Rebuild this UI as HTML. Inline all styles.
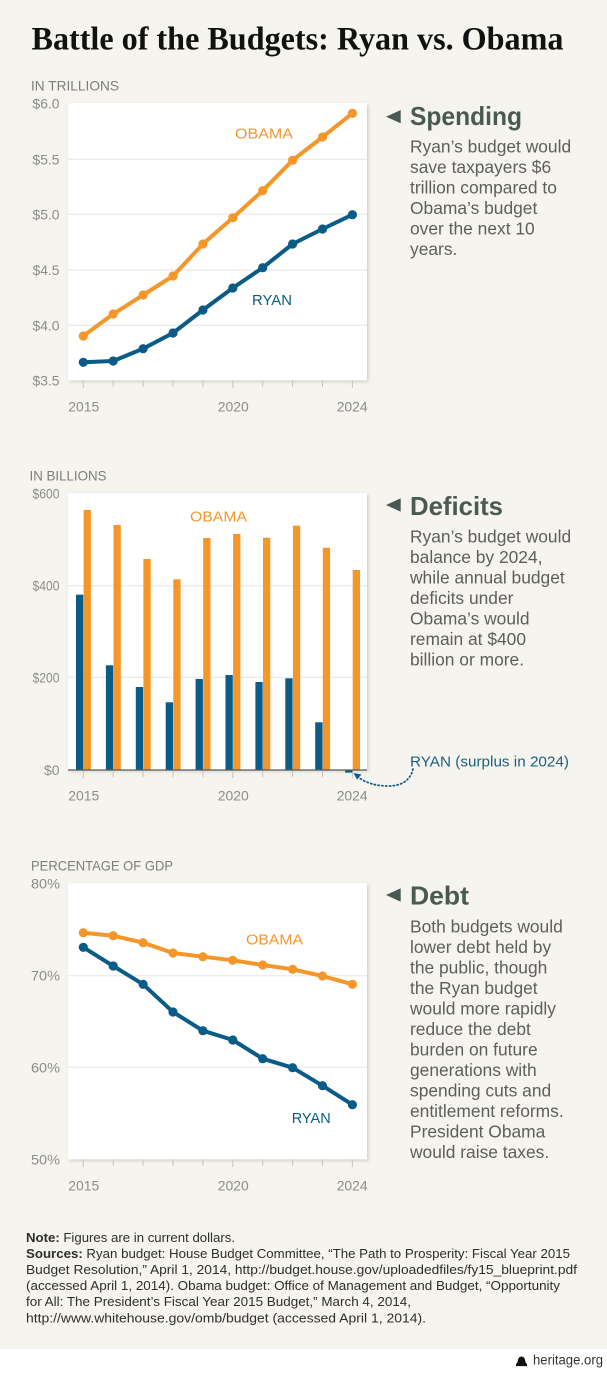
<!DOCTYPE html>
<html>
<head>
<meta charset="utf-8">
<style>
  html,body{margin:0;padding:0;background:#f6f4ee;}
  svg{display:block;}
  .ax{font-family:"Liberation Sans",sans-serif;font-size:14px;fill:#8c8c8c;}
  .unit{font-family:"Liberation Sans",sans-serif;font-size:14px;fill:#7d7d7d;}
  .lblO{font-family:"Liberation Sans",sans-serif;font-size:15px;fill:#f5962b;}
  .lblR{font-family:"Liberation Sans",sans-serif;font-size:15px;fill:#0a5b86;}
  .head{font-family:"Liberation Sans",sans-serif;font-size:26px;font-weight:bold;fill:#4b5955;}
  .body{font-family:"Liberation Sans",sans-serif;font-size:17.4px;fill:#5e5e5e;}
  .foot{font-family:"Liberation Sans",sans-serif;font-size:13px;fill:#2e2e2e;}
</style>
</head>
<body>
<svg width="607" height="1375" viewBox="0 0 607 1375" xmlns="http://www.w3.org/2000/svg">
  <defs>
    <filter id="sh" x="-5%" y="-5%" width="115%" height="115%">
      <feDropShadow dx="1.5" dy="1.5" stdDeviation="1.6" flood-color="#000" flood-opacity="0.16"/>
    </filter>
  </defs>
  <rect x="0" y="0" width="607" height="1375" fill="#f6f4ee"/>
  <rect x="0" y="1349" width="607" height="26" fill="#ffffff"/>

  <!-- Title -->
  <text x="31.5" y="49.3" textLength="532" lengthAdjust="spacingAndGlyphs" style="font-family:'Liberation Serif',serif;font-size:33px;font-weight:bold;fill:#111;">Battle of the Budgets: Ryan vs. Obama</text>

  <!-- ============ CHART 1: Spending ============ -->
  <text class="unit" x="31" y="90.5" textLength="88" lengthAdjust="spacingAndGlyphs">IN TRILLIONS</text>
  <rect x="68" y="103.3" width="299" height="277" fill="#fff" filter="url(#sh)"/>
  <g stroke="#e6e6e6" stroke-width="1">
    <line x1="68" y1="159.3" x2="367" y2="159.3"/>
    <line x1="68" y1="214.3" x2="367" y2="214.3"/>
    <line x1="68" y1="270" x2="367" y2="270"/>
    <line x1="68" y1="325.3" x2="367" y2="325.3"/>
  </g>
  <g stroke="#c4c4c4" stroke-width="1">
    <line x1="83.3" y1="380.3" x2="83.3" y2="388"/>
    <line x1="113.2" y1="380.3" x2="113.2" y2="387"/>
    <line x1="143.1" y1="380.3" x2="143.1" y2="387"/>
    <line x1="173" y1="380.3" x2="173" y2="387"/>
    <line x1="202.9" y1="380.3" x2="202.9" y2="387"/>
    <line x1="232.8" y1="380.3" x2="232.8" y2="388"/>
    <line x1="262.7" y1="380.3" x2="262.7" y2="387"/>
    <line x1="292.6" y1="380.3" x2="292.6" y2="387"/>
    <line x1="322.5" y1="380.3" x2="322.5" y2="387"/>
    <line x1="352.4" y1="380.3" x2="352.4" y2="388"/>
  </g>
  <g class="ax" text-anchor="end">
    <text x="59.5" y="108.5" textLength="27" lengthAdjust="spacingAndGlyphs">$6.0</text>
    <text x="59.5" y="164.3" textLength="27" lengthAdjust="spacingAndGlyphs">$5.5</text>
    <text x="59.5" y="219.3" textLength="27" lengthAdjust="spacingAndGlyphs">$5.0</text>
    <text x="59.5" y="275" textLength="27" lengthAdjust="spacingAndGlyphs">$4.5</text>
    <text x="59.5" y="330.3" textLength="27" lengthAdjust="spacingAndGlyphs">$4.0</text>
    <text x="59.5" y="385.5" textLength="27" lengthAdjust="spacingAndGlyphs">$3.5</text>
  </g>
  <g class="ax" text-anchor="middle">
    <text x="83.8" y="411.7" textLength="31" lengthAdjust="spacingAndGlyphs">2015</text>
    <text x="233.3" y="411.7" textLength="31" lengthAdjust="spacingAndGlyphs">2020</text>
    <text x="352.2" y="411.7" textLength="31" lengthAdjust="spacingAndGlyphs">2024</text>
  </g>
  <polyline fill="none" stroke="#f5962b" stroke-width="4" stroke-linejoin="round" points="83.3,336 113.2,314 143.1,295 173,276 202.9,244 232.8,217.7 262.7,190.7 292.6,160.3 322.5,137 352.4,113.3"/>
  <g fill="#f5962b">
    <circle cx="83.3" cy="336" r="4.6"/><circle cx="113.2" cy="314" r="4.6"/><circle cx="143.1" cy="295" r="4.6"/><circle cx="173" cy="276" r="4.6"/><circle cx="202.9" cy="244" r="4.6"/><circle cx="232.8" cy="217.7" r="4.6"/><circle cx="262.7" cy="190.7" r="4.6"/><circle cx="292.6" cy="160.3" r="4.6"/><circle cx="322.5" cy="137" r="4.6"/><circle cx="352.4" cy="113.3" r="4.6"/>
  </g>
  <polyline fill="none" stroke="#0a5b86" stroke-width="4" stroke-linejoin="round" points="83.3,362.3 113.2,361 143.1,348.7 173,333 202.9,310 232.8,288 262.7,267.7 292.6,244 322.5,229 352.4,214.7"/>
  <g fill="#0a5b86">
    <circle cx="83.3" cy="362.3" r="4.6"/><circle cx="113.2" cy="361" r="4.6"/><circle cx="143.1" cy="348.7" r="4.6"/><circle cx="173" cy="333" r="4.6"/><circle cx="202.9" cy="310" r="4.6"/><circle cx="232.8" cy="288" r="4.6"/><circle cx="262.7" cy="267.7" r="4.6"/><circle cx="292.6" cy="244" r="4.6"/><circle cx="322.5" cy="229" r="4.6"/><circle cx="352.4" cy="214.7" r="4.6"/>
  </g>
  <text class="lblO" x="235" y="138.5" textLength="58" lengthAdjust="spacingAndGlyphs">OBAMA</text>
  <text class="lblR" x="252" y="304.8" textLength="40" lengthAdjust="spacingAndGlyphs">RYAN</text>

  <!-- Spending text -->
  <polygon points="386,116.7 400.7,110 400.7,123.3" fill="#4b5955"/>
  <text class="head" x="410" y="125" textLength="112" lengthAdjust="spacingAndGlyphs">Spending</text>
  <text class="body">
    <tspan x="410" y="152.7">Ryan’s budget would</tspan>
    <tspan x="410" y="173.2">save taxpayers $6</tspan>
    <tspan x="410" y="193.7">trillion compared to</tspan>
    <tspan x="410" y="214.2">Obama’s budget</tspan>
    <tspan x="410" y="234.7">over the next 10</tspan>
    <tspan x="410" y="255.2">years.</tspan>
  </text>

  <!-- ============ CHART 2: Deficits ============ -->
  <text class="unit" x="29.5" y="480.7" textLength="77" lengthAdjust="spacingAndGlyphs">IN BILLIONS</text>
  <rect x="68" y="493.3" width="299" height="276.7" fill="#fff" filter="url(#sh)"/>
  <g stroke="#e6e6e6" stroke-width="1">
    <line x1="68" y1="585.7" x2="367" y2="585.7"/>
    <line x1="68" y1="677.3" x2="367" y2="677.3"/>
  </g>
  <g stroke="#c4c4c4" stroke-width="1">
    <line x1="83.3" y1="770" x2="83.3" y2="778"/>
    <line x1="113.2" y1="770" x2="113.2" y2="777"/>
    <line x1="143.1" y1="770" x2="143.1" y2="777"/>
    <line x1="173" y1="770" x2="173" y2="777"/>
    <line x1="202.9" y1="770" x2="202.9" y2="777"/>
    <line x1="232.8" y1="770" x2="232.8" y2="778"/>
    <line x1="262.7" y1="770" x2="262.7" y2="777"/>
    <line x1="292.6" y1="770" x2="292.6" y2="777"/>
    <line x1="322.5" y1="770" x2="322.5" y2="777"/>
    <line x1="352.4" y1="770" x2="352.4" y2="778"/>
  </g>
  <g class="ax" text-anchor="end">
    <text x="59.5" y="498.5" textLength="27" lengthAdjust="spacingAndGlyphs">$600</text>
    <text x="59.5" y="590.7" textLength="27" lengthAdjust="spacingAndGlyphs">$400</text>
    <text x="59.5" y="682.3" textLength="27" lengthAdjust="spacingAndGlyphs">$200</text>
    <text x="59.5" y="775" textLength="15.5" lengthAdjust="spacingAndGlyphs">$0</text>
  </g>
  <g class="ax" text-anchor="middle">
    <text x="83.8" y="800.7" textLength="31" lengthAdjust="spacingAndGlyphs">2015</text>
    <text x="233.3" y="800.7" textLength="31" lengthAdjust="spacingAndGlyphs">2020</text>
    <text x="352.2" y="800.7" textLength="31" lengthAdjust="spacingAndGlyphs">2024</text>
  </g>
  <!-- orange bars -->
  <g fill="#f5962b">
    <rect x="83.6" y="510" width="7.3" height="260"/>
    <rect x="113.5" y="525" width="7.3" height="245"/>
    <rect x="143.4" y="559" width="7.3" height="211"/>
    <rect x="173.3" y="579.3" width="7.3" height="190.7"/>
    <rect x="203.2" y="538" width="7.3" height="232"/>
    <rect x="233.1" y="534" width="7.3" height="236"/>
    <rect x="263" y="537.7" width="7.3" height="232.3"/>
    <rect x="292.9" y="525.7" width="7.3" height="244.3"/>
    <rect x="322.8" y="547.7" width="7.3" height="222.3"/>
    <rect x="352.7" y="570" width="7.3" height="200"/>
  </g>
  <!-- blue bars -->
  <g fill="#0a5b86">
    <rect x="76" y="594.7" width="7.3" height="175.3"/>
    <rect x="105.9" y="665.3" width="7.3" height="104.7"/>
    <rect x="135.8" y="687" width="7.3" height="83"/>
    <rect x="165.7" y="702.3" width="7.3" height="67.7"/>
    <rect x="195.6" y="679" width="7.3" height="91"/>
    <rect x="225.5" y="675" width="7.3" height="95"/>
    <rect x="255.4" y="682" width="7.3" height="88"/>
    <rect x="285.3" y="678.3" width="7.3" height="91.7"/>
    <rect x="315.2" y="722.3" width="7.3" height="47.7"/>
    <rect x="345.1" y="770" width="7.3" height="2.6"/>
  </g>
  <line x1="68" y1="770" x2="367" y2="770" stroke="#5a5a5a" stroke-width="1.3"/>
  <text class="lblO" x="190" y="521.5" textLength="57" lengthAdjust="spacingAndGlyphs">OBAMA</text>

  <!-- dotted arrow -->
  <path d="M413,769 Q409,786 388,786 Q370,786 358,777" fill="none" stroke="#0a5b86" stroke-width="1.7" stroke-dasharray="1.2,2.6" stroke-linecap="round"/>
  <polygon points="353.5,773 361.5,774.5 357,779.5" fill="#0a5b86"/>
  <text class="lblR" x="410" y="766.5" textLength="159" lengthAdjust="spacingAndGlyphs" style="fill:#1d5f80;">RYAN (surplus in 2024)</text>

  <!-- Deficits text -->
  <polygon points="386,505 400.7,498.3 400.7,511.7" fill="#4b5955"/>
  <text class="head" x="410" y="515" textLength="93" lengthAdjust="spacingAndGlyphs">Deficits</text>
  <text class="body">
    <tspan x="410" y="542.7">Ryan’s budget would</tspan>
    <tspan x="410" y="563.2">balance by 2024,</tspan>
    <tspan x="410" y="583.7">while annual budget</tspan>
    <tspan x="410" y="604.2">deficits under</tspan>
    <tspan x="410" y="624.7">Obama’s would</tspan>
    <tspan x="410" y="645.2">remain at $400</tspan>
    <tspan x="410" y="665.7">billion or more.</tspan>
  </text>

  <!-- ============ CHART 3: Debt ============ -->
  <text class="unit" x="31" y="870.7" textLength="142" lengthAdjust="spacingAndGlyphs">PERCENTAGE OF GDP</text>
  <rect x="68" y="883.3" width="299" height="276" fill="#fff" filter="url(#sh)"/>
  <g stroke="#e6e6e6" stroke-width="1">
    <line x1="68" y1="975.7" x2="367" y2="975.7"/>
    <line x1="68" y1="1067.3" x2="367" y2="1067.3"/>
  </g>
  <g stroke="#c4c4c4" stroke-width="1">
    <line x1="83.3" y1="1159.3" x2="83.3" y2="1167"/>
    <line x1="113.2" y1="1159.3" x2="113.2" y2="1166"/>
    <line x1="143.1" y1="1159.3" x2="143.1" y2="1166"/>
    <line x1="173" y1="1159.3" x2="173" y2="1166"/>
    <line x1="202.9" y1="1159.3" x2="202.9" y2="1166"/>
    <line x1="232.8" y1="1159.3" x2="232.8" y2="1167"/>
    <line x1="262.7" y1="1159.3" x2="262.7" y2="1166"/>
    <line x1="292.6" y1="1159.3" x2="292.6" y2="1166"/>
    <line x1="322.5" y1="1159.3" x2="322.5" y2="1166"/>
    <line x1="352.4" y1="1159.3" x2="352.4" y2="1167"/>
  </g>
  <g class="ax" text-anchor="end">
    <text x="60" y="888.5" textLength="29" lengthAdjust="spacingAndGlyphs">80%</text>
    <text x="60" y="980.7" textLength="29" lengthAdjust="spacingAndGlyphs">70%</text>
    <text x="60" y="1072.3" textLength="29" lengthAdjust="spacingAndGlyphs">60%</text>
    <text x="60" y="1164.3" textLength="29" lengthAdjust="spacingAndGlyphs">50%</text>
  </g>
  <g class="ax" text-anchor="middle">
    <text x="83.8" y="1190.7" textLength="31" lengthAdjust="spacingAndGlyphs">2015</text>
    <text x="233.3" y="1190.7" textLength="31" lengthAdjust="spacingAndGlyphs">2020</text>
    <text x="352.2" y="1190.7" textLength="31" lengthAdjust="spacingAndGlyphs">2024</text>
  </g>
  <polyline fill="none" stroke="#f5962b" stroke-width="4" stroke-linejoin="round" points="83.3,932.7 113.2,935.7 143.1,942.7 173,953 202.9,956.7 232.8,960.3 262.7,965 292.6,969.3 322.5,976 352.4,984.3"/>
  <g fill="#f5962b">
    <circle cx="83.3" cy="932.7" r="4.6"/><circle cx="113.2" cy="935.7" r="4.6"/><circle cx="143.1" cy="942.7" r="4.6"/><circle cx="173" cy="953" r="4.6"/><circle cx="202.9" cy="956.7" r="4.6"/><circle cx="232.8" cy="960.3" r="4.6"/><circle cx="262.7" cy="965" r="4.6"/><circle cx="292.6" cy="969.3" r="4.6"/><circle cx="322.5" cy="976" r="4.6"/><circle cx="352.4" cy="984.3" r="4.6"/>
  </g>
  <polyline fill="none" stroke="#0a5b86" stroke-width="4" stroke-linejoin="round" points="83.3,947.3 113.2,966 143.1,984.3 173,1012 202.9,1030.7 232.8,1040 262.7,1058.7 292.6,1067.7 322.5,1085.7 352.4,1104.7"/>
  <g fill="#0a5b86">
    <circle cx="83.3" cy="947.3" r="4.6"/><circle cx="113.2" cy="966" r="4.6"/><circle cx="143.1" cy="984.3" r="4.6"/><circle cx="173" cy="1012" r="4.6"/><circle cx="202.9" cy="1030.7" r="4.6"/><circle cx="232.8" cy="1040" r="4.6"/><circle cx="262.7" cy="1058.7" r="4.6"/><circle cx="292.6" cy="1067.7" r="4.6"/><circle cx="322.5" cy="1085.7" r="4.6"/><circle cx="352.4" cy="1104.7" r="4.6"/>
  </g>
  <text class="lblO" x="246" y="944.5" textLength="57" lengthAdjust="spacingAndGlyphs">OBAMA</text>
  <text class="lblR" x="291.7" y="1122.8" textLength="39" lengthAdjust="spacingAndGlyphs">RYAN</text>

  <!-- Debt text -->
  <polygon points="386,895 400.7,888.3 400.7,901.7" fill="#4b5955"/>
  <text class="head" x="410" y="904.3" textLength="59" lengthAdjust="spacingAndGlyphs">Debt</text>
  <text class="body">
    <tspan x="410" y="932.7">Both budgets would</tspan>
    <tspan x="410" y="953.2">lower debt held by</tspan>
    <tspan x="410" y="973.7">the public, though</tspan>
    <tspan x="410" y="994.2">the Ryan budget</tspan>
    <tspan x="410" y="1014.7">would more rapidly</tspan>
    <tspan x="410" y="1035.2">reduce the debt</tspan>
    <tspan x="410" y="1055.7">burden on future</tspan>
    <tspan x="410" y="1076.2">generations with</tspan>
    <tspan x="410" y="1096.7">spending cuts and</tspan>
    <tspan x="410" y="1117.2">entitlement reforms.</tspan>
    <tspan x="410" y="1137.7">President Obama</tspan>
    <tspan x="410" y="1158.2">would raise taxes.</tspan>
  </text>

  <!-- Footer notes -->
  <text class="foot" x="26" y="1241.8" textLength="209" lengthAdjust="spacingAndGlyphs"><tspan font-weight="bold">Note:</tspan> Figures are in current dollars.</text>
  <text class="foot" x="26" y="1257.9" textLength="544" lengthAdjust="spacingAndGlyphs"><tspan font-weight="bold">Sources:</tspan> Ryan budget: House Budget Committee, “The Path to Prosperity: Fiscal Year 2015</text>
  <text class="foot" x="26" y="1274" textLength="551" lengthAdjust="spacingAndGlyphs">Budget Resolution,” April 1, 2014, http://budget.house.gov/uploadedfiles/fy15_blueprint.pdf</text>
  <text class="foot" x="26" y="1290.1" textLength="534" lengthAdjust="spacingAndGlyphs">(accessed April 1, 2014). Obama budget: Office of Management and Budget, “Opportunity</text>
  <text class="foot" x="26" y="1306.2" textLength="385" lengthAdjust="spacingAndGlyphs">for All: The President’s Fiscal Year 2015 Budget,” March 4, 2014,</text>
  <text class="foot" x="26" y="1322.3" textLength="400" lengthAdjust="spacingAndGlyphs">http://www.whitehouse.gov/omb/budget (accessed April 1, 2014).</text>

  <!-- heritage.org -->
  <path d="M516,1366 L516,1364 Q517.5,1363 518,1360 Q518.2,1357 521.5,1356.5 Q524.8,1357 525,1360 Q525.5,1363 527,1364 L527,1366 Z" fill="#111"/>
  <rect x="516" y="1364.5" width="11" height="1.6" fill="#111"/>
  <text x="533" y="1364.5" textLength="70" lengthAdjust="spacingAndGlyphs" style="font-family:'Liberation Sans',sans-serif;font-size:13.5px;fill:#333;">heritage.org</text>
</svg>
</body>
</html>
